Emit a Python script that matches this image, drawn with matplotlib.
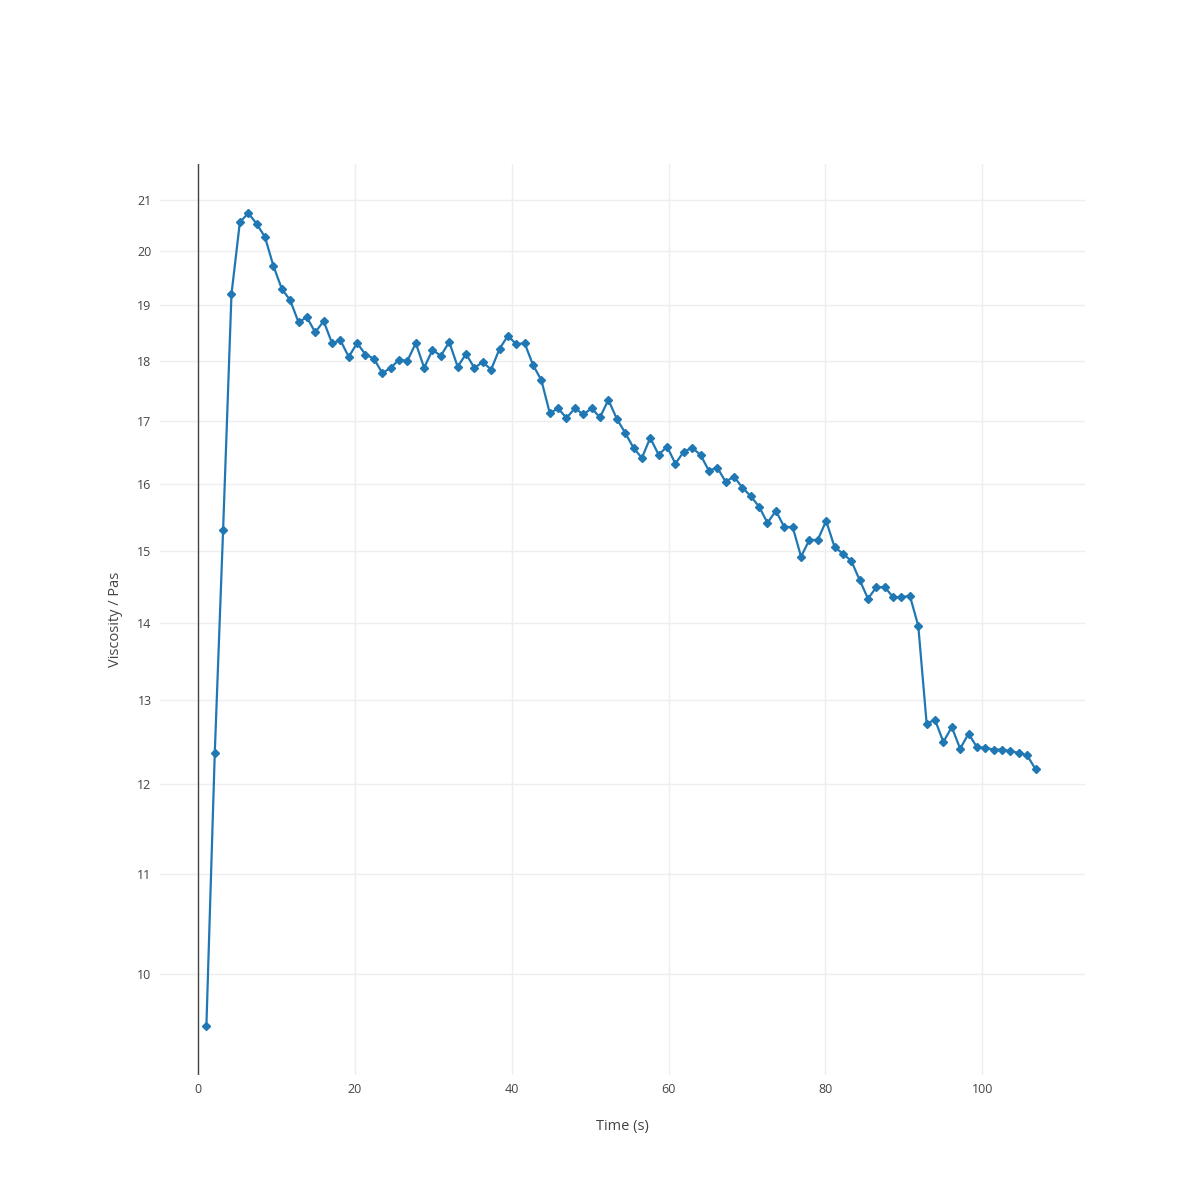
import numpy as np
import matplotlib.pyplot as plt
from matplotlib.ticker import FixedLocator, FixedFormatter, NullLocator

# Tijd (s) en viscositeit (Pa s)
time_s = [1.07, 2.14, 3.20, 4.27, 5.34, 6.41, 7.48, 8.54, 9.61, 10.68,
          11.75, 12.82, 13.88, 14.95, 16.02, 17.09, 18.16, 19.22, 20.29, 21.36,
          22.43, 23.50, 24.56, 25.63, 26.70, 27.77, 28.84, 29.90, 30.97, 32.04,
          33.11, 34.18, 35.24, 36.31, 37.38, 38.45, 39.52, 40.58, 41.65, 42.72,
          43.79, 44.86, 45.92, 46.99, 48.06, 49.13, 50.20, 51.26, 52.33, 53.40,
          54.47, 55.54, 56.60, 57.67, 58.74, 59.81, 60.88, 61.94, 63.01, 64.08,
          65.15, 66.22, 67.28, 68.35, 69.42, 70.49, 71.56, 72.62, 73.69, 74.76,
          75.83, 76.90, 77.96, 79.03, 80.10, 81.17, 82.24, 83.30, 84.37, 85.44,
          86.51, 87.58, 88.64, 89.71, 90.78, 91.85, 92.92, 93.98, 95.05, 96.12,
          97.19, 98.26, 99.32, 100.39, 101.46, 102.53, 103.60, 104.66, 105.73, 106.80]

viscosity = [9.51, 12.36, 15.30, 19.19, 20.56, 20.74, 20.53, 20.27, 19.72, 19.29,
             19.08, 18.68, 18.77, 18.50, 18.70, 18.31, 18.36, 18.07, 18.31, 18.11,
             18.04, 17.79, 17.88, 18.02, 18.00, 18.31, 17.88, 18.19, 18.09, 18.33,
             17.90, 18.12, 17.88, 17.98, 17.85, 18.21, 18.44, 18.29, 18.31, 17.93,
             17.67, 17.12, 17.20, 17.04, 17.20, 17.10, 17.20, 17.05, 17.34, 17.03,
             16.80, 16.56, 16.40, 16.72, 16.45, 16.58, 16.31, 16.50, 16.56, 16.45,
             16.20, 16.25, 16.03, 16.11, 15.94, 15.81, 15.65, 15.41, 15.59, 15.35,
             15.35, 14.92, 15.16, 15.16, 15.44, 15.06, 14.96, 14.86, 14.59, 14.33,
             14.49, 14.49, 14.35, 14.35, 14.37, 13.96, 12.71, 12.76, 12.49, 12.67,
             12.41, 12.59, 12.43, 12.42, 12.40, 12.40, 12.38, 12.36, 12.33, 12.17]

x_ticks = [0, 20, 40, 60, 80, 100]
y_ticks = [10, 11, 12, 13, 14, 15, 16, 17, 18, 19, 20, 21]

plt.rcParams['font.family'] = ['Open Sans', 'DejaVu Sans']

fig = plt.figure(figsize=(12, 12), dpi=100)
ax = fig.add_axes([0.1333, 0.1042, 0.7708, 0.7591])

ax.plot(time_s, viscosity, color='#1f77b4', linewidth=1.6,
        marker='D', markersize=4, zorder=3)

ax.set_yscale('log')
ax.set_xlim(-4.85, 113.1)
ax.set_ylim(9.076, 21.74)

ax.xaxis.set_major_locator(FixedLocator(x_ticks))
ax.yaxis.set_major_locator(FixedLocator(y_ticks))
ax.yaxis.set_major_formatter(FixedFormatter([str(v) for v in y_ticks]))
ax.yaxis.set_minor_locator(NullLocator())

# Raster en nullijn zoals in de referentie
ax.grid(True, color='#eeeeee', linewidth=1)
ax.set_axisbelow(True)
ax.axvline(0, color='#444444', linewidth=1, zorder=2)
for s in ax.spines.values():
    s.set_visible(False)

ax.tick_params(length=0, pad=6, labelsize=9, labelcolor='#444444')
ax.set_xlabel('Time (s)', fontsize=10.5, color='#444444', labelpad=16)
ax.set_ylabel('Viscosity / Pas', fontsize=10.5, color='#444444', labelpad=10)

fig.savefig('out.png', dpi=100, facecolor='white')
